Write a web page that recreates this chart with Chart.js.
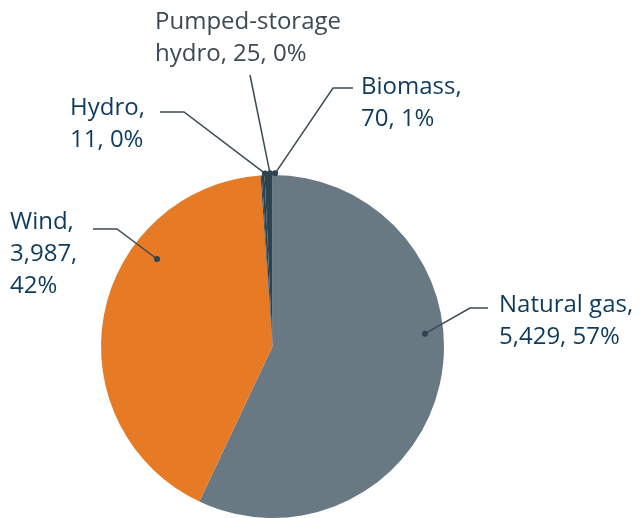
<!DOCTYPE html>
<html>
<head>
<meta charset="utf-8">
<script src="https://cdn.jsdelivr.net/npm/chart.js@4.4.1/dist/chart.umd.min.js"></script>
<style>
  html, body { margin: 0; padding: 0; background: #fff; }
  #wrap { width: 640px; height: 518px; position: relative; }
</style>
</head>
<body>
<div id="wrap"><canvas id="pieChart"></canvas></div>
<script>
// generation by source
const categories = ['Natural gas', 'Wind', 'Hydro', 'Pumped-storage hydro', 'Biomass'];
const values = [5429, 3987, 11, 25, 70];
const colors = ['#687983', '#e67a25', '#2e4350', '#2e4350', '#2e4350'];

// label layout: anchor inside slice (fraction of slice sweep, fraction of radius, extra degrees),
// leader bend / end points, text box left + first line centre, wrap width
const labelLayout = [
    { at: 0.415, rf: 0.892, shift: 0, bend: [470, 308], end: [488, 308], text: [499, 305], wrap: 150, color: '#0f3a5c' },
    { at: 0.676, rf: 0.845, shift: 0, bend: [117, 229], end: [93, 229], text: [10, 222], wrap: 85, color: '#0f3a5c' },
    { at: 0.5, rf: 1.01, shift: 1.3, bend: [184, 112], end: [160, 112], text: [70, 108], wrap: 95, color: '#0f3a5c' },
    { at: 0.5, rf: 1.01, shift: 2.3, bend: null, end: [250, 75], text: [155, 22], wrap: 215, color: '#3d4a53' },
    { at: 0.5, rf: 1.01, shift: 2.2, bend: [333, 88], end: [353, 88], text: [361, 87], wrap: 122, color: '#0f3a5c' }
];

const total = values.reduce((a, b) => a + b, 0);

function wrapWords(ctx, str, maxWidth) {
    const words = str.split(' ');
    const lines = [];
    let line = '';
    words.forEach(w => {
        const test = line ? line + ' ' + w : w;
        if (line && ctx.measureText(test).width > maxWidth) {
            lines.push(line);
            line = w;
        } else {
            line = test;
        }
    });
    if (line) lines.push(line);
    return lines;
}

const calloutPlugin = {
    id: 'callouts',
    afterDatasetsDraw(chart) {
        const ctx = chart.ctx;
        const meta = chart.getDatasetMeta(0);
        ctx.save();
        ctx.font = '24px "Open Sans"';
        ctx.textBaseline = 'middle';
        ctx.textAlign = 'left';
        meta.data.forEach((arc, i) => {
            const lay = labelLayout[i];
            const a = arc.startAngle + (arc.endAngle - arc.startAngle) * lay.at + lay.shift * Math.PI / 180;
            const px = arc.x + Math.cos(a) * arc.outerRadius * lay.rf;
            const py = arc.y + Math.sin(a) * arc.outerRadius * lay.rf;

            ctx.strokeStyle = '#3b4a53';
            ctx.lineWidth = 1.5;
            ctx.beginPath();
            ctx.moveTo(px, py);
            if (lay.bend) ctx.lineTo(lay.bend[0], lay.bend[1]);
            ctx.lineTo(lay.end[0], lay.end[1]);
            ctx.stroke();

            ctx.fillStyle = '#2e4350';
            ctx.beginPath();
            ctx.arc(px, py, 3, 0, Math.PI * 2);
            ctx.fill();

            const pct = Math.round(values[i] / total * 100);
            const str = categories[i] + ', ' + values[i].toLocaleString('en-US') + ', ' + pct + '%';
            const lines = wrapWords(ctx, str, lay.wrap);
            ctx.fillStyle = lay.color;
            lines.forEach((ln, k) => {
                ctx.fillText(ln, lay.text[0], lay.text[1] + k * 32);
            });
        });
        ctx.restore();
    }
};

const pieCtx = document.getElementById('pieChart').getContext('2d');
new Chart(pieCtx, {
    type: 'pie',
    data: {
        labels: categories,
        datasets: [{
            data: values,
            backgroundColor: colors,
            borderWidth: 0
        }]
    },
    options: {
        responsive: true,
        maintainAspectRatio: false,
        animation: false,
        layout: { padding: { left: 101, right: 196, top: 175, bottom: 0 } },
        plugins: {
            legend: { display: false },
            tooltip: { enabled: false }
        }
    },
    plugins: [calloutPlugin]
});
</script>
</body>
</html>
